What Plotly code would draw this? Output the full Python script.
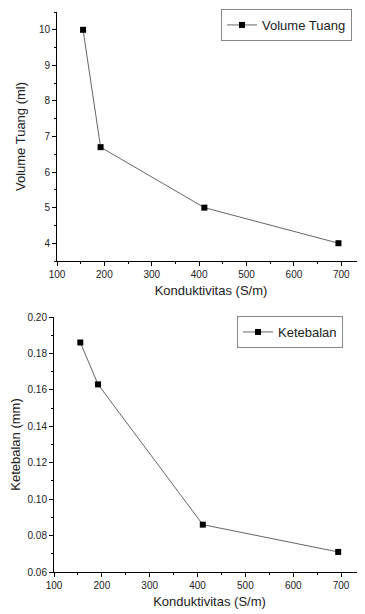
import plotly.graph_objects as go

konduktivitas = [155, 192, 411, 694]
volume_tuang = [10.0, 6.7, 5.0, 4.0]
ketebalan = [0.186, 0.163, 0.086, 0.071]

x_ticks = [100, 200, 300, 400, 500, 600, 700]
FONT = "Liberation Sans, Arial, sans-serif"

# page body has an 8px default margin; figure is sized to fit inside the window
W, H = 357, 606
OFF = 8

def px_x(p):
    return (p - OFF) / W

def px_y(p):
    return 1 - (p - OFF) / H

fig = go.Figure()

fig.add_trace(go.Scatter(
    x=konduktivitas, y=volume_tuang, mode="lines+markers", name="Volume Tuang",
    line=dict(color="#666666", width=1),
    marker=dict(symbol="square", color="black", size=6),
    xaxis="x", yaxis="y", legend="legend",
))
fig.add_trace(go.Scatter(
    x=konduktivitas, y=ketebalan, mode="lines+markers", name="Ketebalan",
    line=dict(color="#666666", width=1),
    marker=dict(symbol="square", color="black", size=6),
    xaxis="x2", yaxis="y2", legend="legend2",
))

axis_common = dict(
    showline=True, linecolor="black", linewidth=1, mirror=False,
    ticks="outside", ticklen=4, tickcolor="black", tickwidth=1,
    showgrid=False, zeroline=False, automargin=False,
    tickfont=dict(size=10, color="#222", family=FONT),
    title_font=dict(size=13, color="#222", family=FONT),
)

fig.update_layout(
    width=W, height=H,
    margin=dict(l=0, r=0, t=0, b=0, autoexpand=False),
    paper_bgcolor="white", plot_bgcolor="white",
    font=dict(family=FONT, color="#222"),
    xaxis=dict(domain=[px_x(57), 1.0], range=[100, 750], anchor="y",
               tickvals=x_ticks, minor=dict(ticks="outside", ticklen=2, dtick=50, tick0=100, tickcolor="black"),
               title=dict(text="Konduktivitas (S/m)", standoff=6), **axis_common),
    yaxis=dict(domain=[px_y(261), px_y(12)], range=[3.5, 10.5], anchor="x",
               dtick=1, minor=dict(ticks="outside", ticklen=2, dtick=0.5, tickcolor="black"),
               title=dict(text="Volume Tuang (ml)", standoff=10), **axis_common),
    xaxis2=dict(domain=[px_x(54), 1.0], range=[100, 750], anchor="y2",
                tickvals=x_ticks, minor=dict(ticks="outside", ticklen=2, dtick=50, tick0=100, tickcolor="black"),
                title=dict(text="Konduktivitas (S/m)", standoff=6), **axis_common),
    yaxis2=dict(domain=[px_y(572), px_y(317)], range=[0.06, 0.20], anchor="x2",
                dtick=0.02, tickformat=".2f", minor=dict(ticks="outside", ticklen=2, dtick=0.01, tickcolor="black"),
                title=dict(text="Ketebalan (mm)", standoff=8), **axis_common),
    legend=dict(x=px_x(352), xanchor="right", y=px_y(9), yanchor="top",
                bordercolor="#888", borderwidth=1, bgcolor="white",
                font=dict(size=13, family=FONT, color="#222"),
                itemwidth=30, tracegroupgap=0),
    legend2=dict(x=px_x(343), xanchor="right", y=px_y(316), yanchor="top",
                 bordercolor="#888", borderwidth=1, bgcolor="white",
                 font=dict(size=13, family=FONT, color="#222"),
                 itemwidth=30, tracegroupgap=0),
    showlegend=True,
)

fig.write_html("out.html")
